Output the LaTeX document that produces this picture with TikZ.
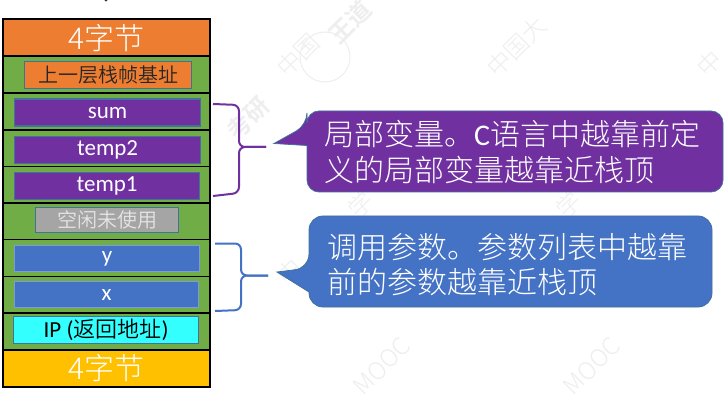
\documentclass[tikz,border=0pt]{standalone}
\usepackage{fontspec}
\setmainfont{Carlito}
\newfontfamily\cjk{Noto Sans CJK SC DemiLight}
\newfontfamily\cjklight{Noto Sans CJK SC Light}
\newfontfamily\cjkbold{Noto Sans CJK SC Bold}
\newcommand\slotlabel[1]{\raisebox{-1.8pt}{#1}}
\definecolor{stackgreen}{HTML}{70AD47}
\definecolor{stackorange}{HTML}{ED7D31}
\definecolor{stackpurple}{HTML}{7030A0}
\definecolor{stackblue}{HTML}{4472C4}
\definecolor{stackgold}{HTML}{FFC000}
\definecolor{stackcyan}{HTML}{33FFFF}
\definecolor{stackgray}{HTML}{A5A5A5}
\definecolor{slotedge}{HTML}{41719C}
\definecolor{wmark}{HTML}{EEEEEE}
\tikzset{
  rowbox/.style={draw=black,line width=1.5pt,minimum width=207pt,anchor=north west,inner sep=0pt},
  slot/.style={draw=slotedge,line width=1.2pt,anchor=north west,inner sep=0pt,text=white,font=\fontsize{23}{26}\selectfont},
  capfont/.style={font=\cjklight\fontsize{30}{34}\selectfont,text=white},
  bracepath/.style={line width=2pt,rounded corners=6pt},
  bubble/.style={line width=0.8pt,draw=slotedge},
  bubbletext/.style={anchor=west,inner sep=0pt,text=white,font=\fontsize{30}{34}\selectfont},
  wmtext/.style={text=wmark,rotate=45,anchor=west,inner sep=0pt,font=\cjklight\fontsize{24}{26}\selectfont},
  wmbold/.style={text=wmark,rotate=45,inner sep=0pt,font=\cjkbold\fontsize{24}{26}\selectfont}
}
\begin{document}
\begin{tikzpicture}[x=1pt,y=-1pt]
\useasboundingbox (0,0) rectangle (727,403);
\fill[white] (0,0) rectangle (727,403);
% background marks
\node[wmtext] (m1) at (281,72) {中国};
\node[wmtext] (m2) at (491,72) {中国大};
\node[wmtext] (m3) at (701,72) {中};
\node[wmtext] (m4) at (281,280) {中};
\node[wmtext,anchor=center] (m5) at (360,204) {学};
\node[wmtext,anchor=center] (m6) at (568,204) {学};
\node[wmtext,anchor=center] (m7) at (382,366) {MOOC};
\node[wmtext,anchor=center] (m8) at (592,366) {MOOC};
\node[wmbold] (wa) at (248,118) {考研};
\node[wmbold] (wb) at (350,22) {王道};
\node[draw=wmark,line width=1pt,circle,minimum size=50pt,inner sep=0pt] (wd) at (325,57) {};
\fill[black!80] (106,0) circle (1.6pt);
% frame rows, top to bottom
\node[rowbox,fill=stackorange,minimum height=37pt,capfont] (r0) at (2,18.5) {4字节};
\node[rowbox,fill=stackgreen,minimum height=37pt] (r1) at (2,55.5) {};
\node[rowbox,fill=stackgreen,minimum height=37pt] (r2) at (2,92.5) {};
\node[rowbox,fill=stackgreen,minimum height=36.5pt] (r3) at (2,129.5) {};
\node[rowbox,fill=stackgreen,minimum height=36.5pt] (r4) at (2,166) {};
\node[rowbox,fill=stackgreen,minimum height=36pt] (r5) at (2,202.5) {};
\node[rowbox,fill=stackgreen,minimum height=37pt] (r6) at (2,238.5) {};
\node[rowbox,fill=stackgreen,minimum height=36pt] (r7) at (2,275.5) {};
\node[rowbox,fill=stackgreen,minimum height=37pt] (r8) at (2,312) {};
\node[rowbox,fill=stackgold,minimum height=37pt,capfont] (r9) at (2,349) {4字节};
% slots inside the rows
\node[slot,fill=stackorange,minimum width=167pt,minimum height=27pt,text=black!85] (base) at (24,61) {\cjk\fontsize{20}{24}\selectfont 上一层栈帧基址};
\node[slot,fill=stackpurple,minimum width=186pt,minimum height=27pt] (sum) at (14,98.5) {\slotlabel{sum}};
\node[slot,fill=stackpurple,minimum width=186pt,minimum height=27pt] (t2) at (14,136) {\slotlabel{temp2}};
\node[slot,fill=stackpurple,minimum width=185pt,minimum height=27pt] (t1) at (14,172) {\slotlabel{temp1}};
\node[slot,fill=stackgray,minimum width=143pt,minimum height=25pt,text=white!90!black] (free) at (35,207) {\cjk\fontsize{20}{24}\selectfont 空闲未使用};
\node[slot,draw=stackblue!70!white,fill=stackblue,minimum width=185pt,minimum height=26pt] (vy) at (14,245) {\slotlabel{y}};
\node[slot,draw=stackblue!70!white,fill=stackblue,minimum width=184pt,minimum height=26pt] (vx) at (14,281) {\slotlabel{x}};
\node[slot,fill=stackcyan,minimum width=185pt,minimum height=27pt,text=black] (ip) at (13,316) {\slotlabel{IP ({\cjk\fontsize{22}{24}\selectfont 返回地址})}};
% braces next to the slots
\coordinate (pa) at (213,104); \coordinate (pb) at (266,147); \coordinate (pc) at (213,196);
\draw[stackpurple,bracepath] (pa) -- (239,105) -- (239,147) -- (pb);
\draw[stackpurple,bracepath] (pb) -- (239,147) -- (239,193) -- (pc);
\coordinate (qa) at (215,243.5); \coordinate (qb) at (268,275.5); \coordinate (qc) at (215,311);
\draw[stackblue,bracepath] (qa) -- (241,243.5) -- (241,275.5) -- (qb);
\draw[stackblue,bracepath] (qb) -- (241,275.5) -- (241,310) -- (qc);
% callouts
\draw[bubble,fill=stackpurple] (500,111) [rounded corners=12pt] -- (307,111) -- (307,125) [sharp corners] -- (274,143.5) -- (307,145.5) [rounded corners=12pt] -- (307,192) -- (723,192) -- (723,111) -- cycle;
\node[bubbletext] (pl1) at (324,134) {\cjklight 局部变量。\rmfamily C\cjklight 语言中越靠前定};
\node[bubbletext] (pl2) at (324,170.5) {\cjklight 义的局部变量越靠近栈顶};
\draw[bubble,fill=stackblue] (500,216) [rounded corners=14pt] -- (309,216) -- (309,268) [sharp corners] -- (277,272) -- (309,292) [rounded corners=14pt] -- (309,307) -- (712,307) -- (712,216) -- cycle;
\node[bubbletext] (ql1) at (327,247) {\cjklight 调用参数。参数列表中越靠};
\node[bubbletext] (ql2) at (327,282) {\cjklight 前的参数越靠近栈顶};
\end{tikzpicture}
\end{document}
